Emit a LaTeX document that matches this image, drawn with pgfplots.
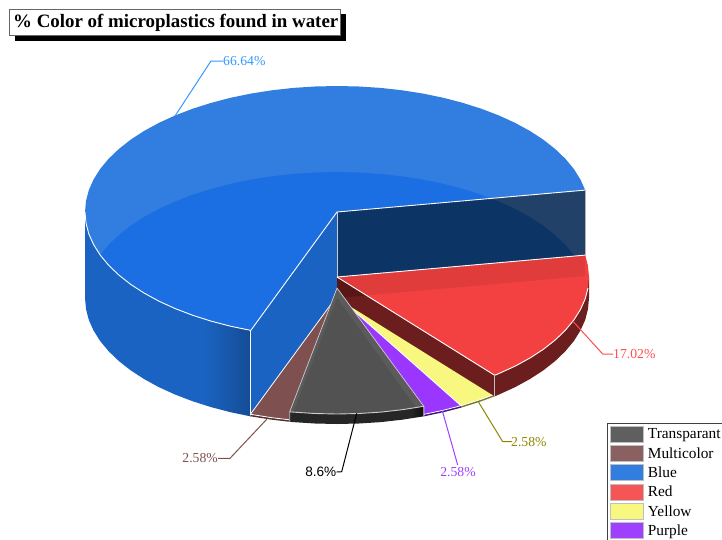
\documentclass[border=0pt]{standalone}
\usepackage{fontspec}
\usepackage{pgfplots}
\pgfplotsset{compat=1.18}
\setmainfont{Liberation Serif}
\newfontfamily\labelsans{Liberation Sans}

\definecolor{blueLight}{HTML}{327EE0}
\definecolor{blueDeep}{HTML}{1B6FE2}
\definecolor{blueWall}{HTML}{1A63C2}
\definecolor{blueWallEnd}{HTML}{154C94}
\definecolor{navyLight}{HTML}{224169}
\definecolor{navyDeep}{HTML}{0C3566}
\definecolor{redTop}{HTML}{F34141}
\definecolor{redBand}{HTML}{E03C3C}
\definecolor{redWall}{HTML}{6C1E1E}
\definecolor{redWallDeep}{HTML}{581616}
\definecolor{greyTop}{HTML}{5B5B5B}
\definecolor{greyInner}{HTML}{525252}
\definecolor{greyWall}{HTML}{262626}
\definecolor{greyWallEnd}{HTML}{0F0F0F}
\definecolor{brownTop}{HTML}{7F5050}
\definecolor{brownWall}{HTML}{552F2F}
\definecolor{yellowTop}{HTML}{F8F880}
\definecolor{yellowWall}{HTML}{77772A}
\definecolor{purpleTop}{HTML}{9B36FF}
\definecolor{purpleWall}{HTML}{3C1A78}

\pgfdeclarehorizontalshading{bluewallshade}{100bp}{
  color(0bp)=(blueWall); color(25bp)=(blueWall); color(61bp)=(blueWall);
  color(75bp)=(blueWallEnd); color(100bp)=(blueWallEnd)}
\pgfdeclarehorizontalshading{greywallshade}{100bp}{
  color(0bp)=(greyWall); color(25bp)=(greyWall); color(70bp)=(greyWall);
  color(75bp)=(greyWallEnd); color(100bp)=(greyWallEnd)}

\begin{document}
\begin{tikzpicture}
\clip (0,0) rectangle (722pt,539pt);
\begin{axis}[
  at={(0,0)}, anchor=south west,
  scale only axis, width=722pt, height=539pt,
  xmin=0, xmax=722, ymin=0, ymax=539, y dir=reverse,
  axis lines=none, clip=false,
  every axis plot/.append style={no markers, forget plot},
  slice/.style={draw=white, line width=0.8pt, line join=round},
  flat/.style={draw=none},
  leader/.style={line width=1pt, line join=round},
  legend image code/.code={
    \fill[draw=white!75!black, line width=0.5pt, #1] (0pt,-7.7pt) rectangle (33pt,8.3pt);},
  legend cell align=left,
  legend style={
    at={(axis cs:607,423)}, anchor=north west,
    draw=black!75, line width=0.8pt, fill=white,
    font=\fontsize{15.35}{17}\selectfont,
    inner xsep=3pt, inner ysep=1.5pt,
    row sep=0pt, column sep=4pt,
    nodes={inner sep=0pt, minimum height=19.25pt, anchor=west},
  },
]
% blue slice: outer wall
\addplot[flat, shading=bluewallshade] coordinates {
  (85,212)(86,223)(88.8,233.9)(93.6,244.6)(100.2,255.1)(108.6,265.2)(118.8,275)
  (130.6,284.3)(144,293)(158.8,301.1)(175,308.5)(192.5,315.2)(211,321.1)(230.5,326.2)
  (250.8,330.4)(250.8,416.4)(230.5,412.2)(211,407.1)(192.5,401.2)(175,394.5)(158.8,387.1)
  (144,379)(130.6,370.3)(118.8,361)(108.6,351.2)(100.2,341.1)(93.6,330.6)(88.8,319.9)
  (86,309)(85,298)} --cycle;
% blue slice: top face
\addplot[fill=blueLight, flat] coordinates {
  (337,212)(585.2,190.1)(580.4,179.4)(573.8,168.9)(565.4,158.8)(555.2,149)(543.4,139.7)
  (530,131)(515.2,122.9)(499,115.5)(481.5,108.8)(463,102.9)(443.5,97.8)(423.2,93.6)
  (402.2,90.3)(380.8,87.9)(359,86.5)(337,86)(315,86.5)(293.2,87.9)(271.8,90.3)(250.8,93.6)
  (230.5,97.8)(211,102.9)(192.5,108.8)(175,115.5)(158.8,122.9)(144,131)(130.6,139.7)
  (118.8,149)(108.6,158.8)(100.2,168.9)(93.6,179.4)(88.8,190.1)(86,201)(85,212)
  (86,223)(88.8,233.9)(93.6,244.6)(100.2,255.1)(108.6,265.2)(118.8,275)(130.6,284.3)
  (144,293)(158.8,301.1)(175,308.5)(192.5,315.2)(211,321.1)(230.5,326.2)(250.8,330.4)} --cycle;
% part of the top face with the base showing through
\addplot[fill=blueDeep, flat] coordinates {
  (337,212)(490,198.3)(481.5,194.8)(463,188.9)(443.5,183.8)(423.2,179.6)(402.2,176.3)
  (380.8,173.9)(359,172.5)(337,172)(315,172.5)(293.2,173.9)(271.8,176.3)(250.8,179.6)
  (230.5,183.8)(211,188.9)(192.5,194.8)(175,201.5)(158.8,208.9)(144,217)(130.6,225.7)
  (118.8,235)(108.6,244.8)(100.2,254.9)(108.6,265.2)(118.8,275)(130.6,284.3)(144,293)
  (158.8,301.1)(175,308.5)(192.5,315.2)(211,321.1)(230.5,326.2)(250.8,330.4)} --cycle;
% blue slice: the two cut faces
\addplot[fill=blueWall, flat] coordinates {
  (250.8,330.4)(337,212)(337,298)(250.8,416.4)} --cycle;
\addplot[fill=navyLight, flat] coordinates {
  (337,212)(585.2,190.1)(585.2,276.1)(337,298)} --cycle;
\addplot[fill=navyDeep, flat] coordinates {
  (337,212)(490,198.3)(499,201.5)(515.2,208.9)(530,217)(543.4,225.7)(555.2,235)
  (565.4,244.8)(573.8,254.9)(580.4,265.4)(585.2,276.1)(337,298)} --cycle;
% blue slice: white edges
\addplot[draw=white, line width=0.9pt, line join=round] coordinates {
  (85,212)(86,223)(88.8,233.9)(93.6,244.6)(100.2,255.1)(108.6,265.2)(118.8,275)(130.6,284.3)
  (144,293)(158.8,301.1)(175,308.5)(192.5,315.2)(211,321.1)(230.5,326.2)(250.8,330.4)
  (337,212)(585.2,190.1)};
\addplot[draw=white, line width=0.9pt] coordinates {(250.8,330.4)(250.8,416.4)};
\addplot[draw=white!80!black, line width=1pt] coordinates {(337,212)(337,277)};
\addplot[draw=white!70!black, line width=0.5pt] coordinates {(585.2,190.1)(585.2,255.1)};

% thin slices
\addplot[fill=brownWall, flat] coordinates {
  (250.4,414.3)(271.8,417.7)(289.7,419.8)(289.7,421.8)(271.8,419.7)(250.4,416.3)} --cycle;
\addplot[fill=brownTop, slice] coordinates {
  (337,296)(289.7,419.8)(271.8,417.7)(250.4,414.3)} --cycle;
\addplot[fill=yellowWall, flat] coordinates {
  (494.7,394.3)(481.5,399.2)(463,405.1)(460.9,405.7)(460.9,407.7)(463,407.1)(481.5,401.2)(494.7,396.3)} --cycle;
\addplot[fill=yellowTop, slice] coordinates {
  (337,296)(494.7,394.3)(481.5,399.2)(463,405.1)(460.9,405.7)} --cycle;
\addplot[fill=purpleWall, flat] coordinates {
  (460.9,405.7)(443.5,410.2)(424.2,414.3)(424.2,416.3)(443.5,412.2)(460.9,407.7)} --cycle;
\addplot[fill=purpleTop, slice] coordinates {
  (337,296)(460.9,405.7)(443.5,410.2)(424.2,414.3)} --cycle;

% red slice
\addplot[fill=redWall, flat] coordinates {
  (494.7,375.3)(494.7,396.3)(499,394.5)(515.2,387.1)(530,379)(543.4,370.3)(555.2,361)
  (565.4,351.2)(573.8,341.1)(580.4,330.6)(585.2,319.9)(588,309)(589,298)(589,277)} --cycle;
\addplot[fill=redWall, flat] coordinates {
  (337,277)(494.7,375.3)(494.7,396.3)(337,298)} --cycle;
\addplot[fill=redWallDeep, flat] coordinates {(337,277)(366.5,295.4)(337,298)} --cycle;
\addplot[fill=redTop, flat] coordinates {
  (337,277)(585.2,255.1)(588,266)(589,277)(588,288)(585.2,298.9)(580.4,309.6)(573.8,320.1)
  (565.4,330.2)(555.2,340)(543.4,349.3)(530,358)(515.2,366.1)(499,373.5)(494.7,375.3)} --cycle;
\addplot[fill=redBand, flat] coordinates {
  (337,277)(585.2,255.1)(585.2,276.1)(366.5,295.4)} --cycle;
\addplot[draw=white, line width=0.9pt, line join=round] coordinates {
  (337,277)(585.2,255.1)};
\addplot[draw=white, line width=0.9pt, line join=round] coordinates {
  (337,277)(494.7,375.3)(499,373.5)(515.2,366.1)(530,358)(543.4,349.3)(555.2,340)(565.4,330.2)
  (573.8,320.1)(580.4,309.6)(585.2,298.9)(588,288)};
\addplot[draw=white!75!black, line width=1pt] coordinates {(494.7,375.3)(494.7,396.3)};

% transparent slice
\addplot[flat, shading=greywallshade] coordinates {
  (289.7,411.8)(293.2,412.1)(315,413.5)(337,414)(359,413.5)(380.8,412.1)(402.2,409.7)(423.8,406.3)
  (423.8,416.3)(402.2,419.7)(380.8,422.1)(359,423.5)(337,424)(315,423.5)(293.2,422.1)(289.7,421.8)} --cycle;
\addplot[fill=greyTop, flat] coordinates {
  (337,288)(423.8,406.3)(402.2,409.7)(380.8,412.1)(359,413.5)(337,414)(315,413.5)(293.2,412.1)(289.7,411.8)} --cycle;
\addplot[fill=greyInner, flat] coordinates {
  (337,298)(416,407.5)(402.2,409.7)(380.8,412.1)(359,413.5)(337,414)(315,413.5)(293.4,412.1)} --cycle;
\addplot[draw=white!80!black, line width=0.9pt, line join=round] coordinates {
  (289.7,421.8)(289.7,411.8)(293.2,412.1)(315,413.5)(337,414)(359,413.5)(380.8,412.1)(402.2,409.7)(423.8,406.3)(423.8,416.3)};
\addplot[draw=white!80!black, line width=0.7pt, line join=round] coordinates {
  (289.7,411.8)(337,288)(423.8,406.3)};

% leader lines
\addplot[leader, color={rgb,255:red,51;green,153;blue,255}] coordinates {(175,116)(211,61)(223,61)};
\addplot[leader, color={rgb,255:red,255;green,77;blue,77}] coordinates {(573.3,321.7)(602.7,354)(613,354)};
\addplot[leader, color=olive] coordinates {(478.3,401.7)(502.7,441.7)(512,441.7)};
\addplot[leader, color={rgb,255:red,160;green,64;blue,255}] coordinates {(442.3,410.7)(457.7,465)};
\addplot[leader, color=black] coordinates {(356.7,413.3)(341.7,471.7)(336.7,472)};
\addplot[leader, color=brownTop] coordinates {(266.7,419.3)(230,458.3)(218,458.3)};

% value labels
\node[anchor=west, inner sep=0pt, text={rgb,255:red,51;green,153;blue,255}, font=\fontsize{13.7}{15}\selectfont] at (axis cs:223,61) {66.64\%};
\node[anchor=west, inner sep=0pt, text={rgb,255:red,255;green,77;blue,77}, font=\fontsize{13.7}{15}\selectfont] at (axis cs:613,354) {17.02\%};
\node[anchor=west, inner sep=0pt, text=olive, font=\fontsize{13.7}{15}\selectfont] at (axis cs:511,441.7) {2.58\%};
\node[anchor=center, inner sep=0pt, text={rgb,255:red,160;green,64;blue,255}, font=\fontsize{13.7}{15}\selectfont] at (axis cs:458,472.5) {2.58\%};
\node[anchor=east, inner sep=0pt, text=black, font=\labelsans\fontsize{13.6}{15}\selectfont] at (axis cs:336.5,472) {8.6\%};
\node[anchor=east, inner sep=0pt, text=brownTop, font=\fontsize{13.7}{15}\selectfont] at (axis cs:218,458.3) {2.58\%};

% title box with its drop shadow
\fill[black] (axis cs:15,14) rectangle (axis cs:346,41);
\draw[fill=white, draw=black!60, line width=0.8pt] (axis cs:9.5,9.5) rectangle (axis cs:340,35);
\node[anchor=west, inner sep=0pt, font=\bfseries\fontsize{18.9}{22}\selectfont] at (axis cs:13,23) {\% Color of microplastics found in water};

% legend
\addlegendimage{fill={rgb,255:red,95;green,95;blue,95}}
\addlegendentry{Transparant}
\addlegendimage{fill={rgb,255:red,138;green,96;blue,96}}
\addlegendentry{Multicolor}
\addlegendimage{fill=blueLight}
\addlegendentry{Blue}
\addlegendimage{fill={rgb,255:red,245;green,85;blue,85}}
\addlegendentry{Red}
\addlegendimage{fill=yellowTop}
\addlegendentry{Yellow}
\addlegendimage{fill={rgb,255:red,160;green,64;blue,255}}
\addlegendentry{Purple}
\end{axis}
\end{tikzpicture}
\end{document}
